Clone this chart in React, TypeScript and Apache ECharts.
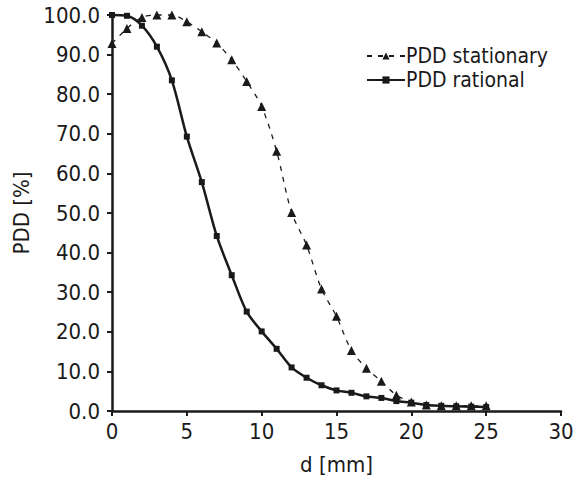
import React, { useEffect, useRef } from "react";
import * as echarts from "echarts";

const depth = [0, 1, 2, 3, 4, 5, 6, 7, 8, 9, 10, 11, 12, 13, 14, 15, 16, 17, 18, 19, 20, 21, 22, 23, 24, 25];
const pddStationary = [92.8, 96.6, 99.4, 100.0, 100.0, 98.3, 95.8, 92.9, 88.7, 83.2, 76.9, 65.6, 50.1, 41.9, 30.8, 23.9, 15.3, 10.8, 7.5, 4.0, 2.3, 1.5, 1.3, 1.3, 1.3, 1.3];
const pddRational = [100.0, 99.8, 97.3, 92.0, 83.5, 69.3, 57.8, 44.2, 34.3, 25.1, 20.1, 15.7, 11.0, 8.4, 6.5, 5.2, 4.6, 3.7, 3.3, 2.5, 2.1, 1.5, 1.3, 1.2, 1.1, 1.0];
const seriesNames = ["PDD stationary", "PDD rational"];
const xAxisName = "d [mm]";
const yAxisName = "PDD [%]";

const FONT = "'DejaVu Sans Condensed', 'Liberation Sans Narrow', sans-serif";
const INK = "#1a1a1a";

export default function App() {
  const ref = useRef<HTMLDivElement>(null);
  useEffect(() => {
    if (!ref.current) return;
    document.body.style.margin = "0";
    const chart = echarts.init(ref.current, null, { renderer: "svg" });
    const axisLine = { show: true, lineStyle: { color: INK, width: 2.5 } };
    chart.setOption({
      animation: false,
      backgroundColor: "#ffffff",
      textStyle: { fontFamily: FONT },
      grid: { left: 112, right: 23, top: 15, bottom: 68, containLabel: false },
      legend: {
        right: 31,
        top: 40,
        orient: "vertical",
        itemGap: 2,
        itemWidth: 38,
        itemHeight: 9,
        textStyle: { fontFamily: FONT, fontSize: 21, lineHeight: 22, color: INK, padding: [0, 0, 0, -4] },
        data: seriesNames,
      },
      xAxis: {
        type: "value",
        min: 0,
        max: 30,
        interval: 5,
        name: xAxisName,
        nameLocation: "middle",
        nameGap: 42,
        nameTextStyle: { fontFamily: FONT, fontSize: 22, color: INK },
        axisLine,
        axisTick: { show: true, length: 5, lineStyle: { color: INK, width: 2 } },
        axisLabel: { fontFamily: FONT, fontSize: 22, color: INK, margin: 9 },
        splitLine: { show: false },
      },
      yAxis: {
        type: "value",
        min: 0,
        max: 100,
        interval: 10,
        name: yAxisName,
        nameLocation: "middle",
        nameGap: 66,
        nameTextStyle: { fontFamily: FONT, fontSize: 22, color: INK },
        axisLine,
        axisTick: { show: true, length: 5, lineStyle: { color: INK, width: 2 } },
        axisLabel: {
          fontFamily: FONT,
          fontSize: 22,
          color: INK,
          margin: 12,
          formatter: (v: number) => v.toFixed(1),
        },
        splitLine: { show: false },
      },
      series: [
        {
          name: seriesNames[0],
          type: "line",
          data: depth.map((d, i) => [d, pddStationary[i]]),
          symbol: "triangle",
          symbolSize: 9,
          smooth: 0.3,
          clip: false,
          itemStyle: { color: INK },
          lineStyle: { color: INK, width: 1.3, type: [5, 6] },
          z: 3,
        },
        {
          name: seriesNames[1],
          type: "line",
          data: depth.map((d, i) => [d, pddRational[i]]),
          symbol: "rect",
          symbolSize: 6,
          smooth: 0.3,
          clip: false,
          itemStyle: { color: INK },
          lineStyle: { color: INK, width: 2.5 },
          z: 4,
        },
      ],
    });
    return () => chart.dispose();
  }, []);
  return <div ref={ref} style={{ width: 584, height: 480 }} />;
}
